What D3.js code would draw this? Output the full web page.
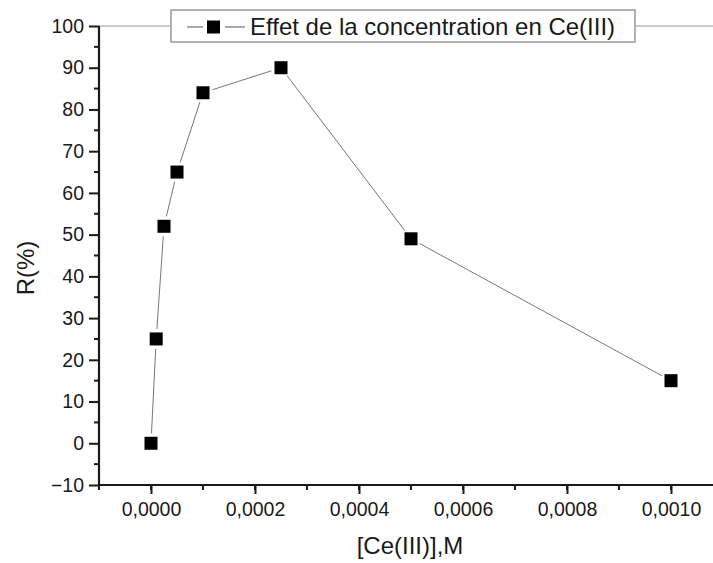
<!DOCTYPE html>
<html>
<head>
<meta charset="utf-8">
<script src="https://cdn.jsdelivr.net/npm/d3@7"></script>
<style>
  body { margin: 0; background: #fff; }
  text { font-family: "Liberation Sans", Arial, sans-serif; fill: #1a1a1a; }
</style>
</head>
<body>
<svg width="713" height="563"></svg>
<script>
// data
var concentration = [0, 0.00001, 0.000025, 0.00005, 0.0001, 0.00025, 0.0005, 0.001];
var rendement = [0, 25, 52, 65, 84, 90, 49, 15];
var xTicks = [0, 0.0002, 0.0004, 0.0006, 0.0008, 0.0010];
var yTicks = [-10, 0, 10, 20, 30, 40, 50, 60, 70, 80, 90, 100];
var legendLabel = 'Effet de la concentration en Ce(III)';

var svg = d3.select('svg');

var x = d3.scaleLinear().domain([-0.0001, 0.0011]).range([99, 723]);
var y = d3.scaleLinear().domain([-10, 100]).range([485, 26]);

var fmt = function(d){ return d3.format('.4f')(d).replace('.', ','); };

// top frame line (grey)
svg.append('line')
  .attr('x1', x(-0.0001)).attr('x2', x(0.0011))
  .attr('y1', y(100)).attr('y2', y(100))
  .attr('stroke', '#999').attr('stroke-width', 1);

// minor ticks
var xMinor = d3.range(-0.0001, 0.00111, 0.0001);
var yMinor = d3.range(-5, 100, 10);

svg.append('g').selectAll('line').data(xMinor).enter().append('line')
  .attr('x1', d => x(d)).attr('x2', d => x(d))
  .attr('y1', y(-10)).attr('y2', y(-10) + 5)
  .attr('stroke', '#1a1a1a').attr('stroke-width', 2);

svg.append('g').selectAll('line').data(yMinor).enter().append('line')
  .attr('x1', x(-0.0001) - 5).attr('x2', x(-0.0001))
  .attr('y1', d => y(d)).attr('y2', d => y(d))
  .attr('stroke', '#1a1a1a').attr('stroke-width', 2);

// axes
var xAxis = d3.axisBottom(x).tickValues(xTicks).tickFormat(fmt).tickSize(9).tickPadding(8);
var yAxis = d3.axisLeft(y).tickValues(yTicks).tickSize(10).tickPadding(5);

var gx = svg.append('g').attr('transform', 'translate(0,' + y(-10) + ')').call(xAxis);
var gy = svg.append('g').attr('transform', 'translate(' + x(-0.0001) + ',0)').call(yAxis);

[gx, gy].forEach(function(g){
  g.select('.domain').attr('stroke', '#1a1a1a').attr('stroke-width', 2.2);
  g.selectAll('.tick line').attr('stroke', '#1a1a1a').attr('stroke-width', 2);
  g.selectAll('.tick text').attr('font-size', 19.5)
    .style('font-family', '"Liberation Sans", Arial, sans-serif').attr('fill', '#1a1a1a');
});
gx.select('.domain').attr('d', 'M' + x(-0.0001) + ',0H' + x(0.0011));
gy.select('.domain').attr('d', 'M0,' + y(-10) + 'V' + y(100));

// axis titles
svg.append('text')
  .attr('transform', 'translate(34,268) rotate(-90)')
  .attr('text-anchor', 'middle')
  .attr('font-size', 24)
  .text('R(%)');

svg.append('text')
  .attr('x', 410).attr('y', 554)
  .attr('text-anchor', 'middle')
  .attr('font-size', 24)
  .text('[Ce(III)],M');

// connecting line with gaps around the markers
var pts = concentration.map((c, i) => [x(c), y(rendement[i])]);
var gap = 10;
var segs = [];
for (let i = 0; i < pts.length - 1; i++) {
  var a = pts[i], b = pts[i + 1];
  var dx = b[0] - a[0], dy = b[1] - a[1];
  var len = Math.sqrt(dx * dx + dy * dy);
  if (len > gap * 2) {
    segs.push([a[0] + dx / len * gap, a[1] + dy / len * gap, b[0] - dx / len * gap, b[1] - dy / len * gap]);
  }
}
svg.append('g').selectAll('line').data(segs).enter().append('line')
  .attr('x1', d => d[0]).attr('y1', d => d[1])
  .attr('x2', d => d[2]).attr('y2', d => d[3])
  .attr('stroke', '#777').attr('stroke-width', 1);

// markers
var ms = 13;
svg.append('g').selectAll('rect').data(concentration).enter().append('rect')
  .attr('x', (d, i) => x(d) - ms / 2)
  .attr('y', (d, i) => y(rendement[i]) - ms / 2)
  .attr('width', ms).attr('height', ms)
  .attr('fill', '#000');

// legend
var lg = svg.append('g');
lg.append('rect')
  .attr('x', 171).attr('y', 10).attr('width', 464).attr('height', 32)
  .attr('fill', '#fff').attr('stroke', '#999').attr('stroke-width', 1.5);
lg.append('line').attr('x1', 187).attr('x2', 203).attr('y1', 27).attr('y2', 27)
  .attr('stroke', '#555').attr('stroke-width', 1);
lg.append('line').attr('x1', 225).attr('x2', 245).attr('y1', 27).attr('y2', 27)
  .attr('stroke', '#555').attr('stroke-width', 1);
lg.append('rect').attr('x', 207).attr('y', 20.5).attr('width', ms).attr('height', ms).attr('fill', '#000');
lg.append('text')
  .attr('x', 250).attr('y', 35)
  .attr('font-size', 24)
  .text(legendLabel);
</script>
</body>
</html>
